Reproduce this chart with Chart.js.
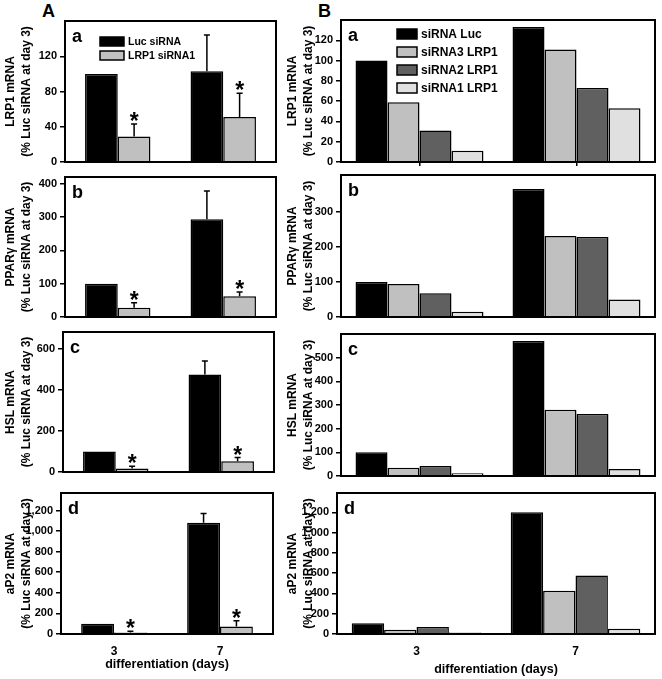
<!DOCTYPE html>
<html><head><meta charset="utf-8">
<script src="https://cdn.jsdelivr.net/npm/chart.js@4.4.1/dist/chart.umd.min.js"></script>
<style>
html,body{margin:0;padding:0;background:#fff;}
#wrap{position:relative;width:662px;height:679px;overflow:hidden;background:#fff;}
.cv{position:absolute;}
.hd{position:absolute;font:bold 18px "Liberation Sans",Arial,sans-serif;color:#000;line-height:18px;}
</style></head><body>
<div id="wrap">
<div class="hd" style="left:42px;top:2px">A</div>
<div class="hd" style="left:318px;top:2px">B</div>
</div>
<script>
// ---------- data ----------
const categories = ['3', '7'];
const xTitle = 'differentiation (days)';

// Column A (mean, upward error, significance)
const legendA = ['Luc siRNA', 'LRP1 siRNA1'];
const aLuc = [100, 103], aLucErr = [0, 41], aLrp = [29, 51], aLrpErr = [14, 27], aStar = [true, true];
const bLuc = [100, 293], bLucErr = [0, 85], bLrp = [28, 62], bLrpErr = [15, 13], bStar = [true, true];
const cLuc = [100, 474], cLucErr = [0, 65], cLrp = [17, 52], cLrpErr = [11, 18], cStar = [true, true];
const dLuc = [100, 1080], dLucErr = [0, 92], dLrp = [15, 72], dLrpErr = [12, 57], dStar = [true, true];
const aTicksA = [0, 40, 80, 120], bTicksA = [0, 100, 200, 300, 400], cTicksA = [0, 200, 400, 600], dTicksA = [0, 200, 400, 600, 800, 1000, 1200];

// Column B
const legendB = ['siRNA Luc', 'siRNA3 LRP1', 'siRNA2 LRP1', 'siRNA1 LRP1'];
const aB_luc = [100, 133], aB_s3 = [59, 111], aB_s2 = [31, 73], aB_s1 = [11, 53];
const bB_luc = [100, 365], bB_s3 = [94, 231], bB_s2 = [68, 228], bB_s1 = [15, 50];
const cB_luc = [100, 570], cB_s3 = [35, 280], cB_s2 = [42, 262], cB_s1 = [12, 30];
const dB_luc = [105, 1200], dB_s3 = [42, 426], dB_s2 = [69, 576], dB_s1 = [16, 52];
const aTicksB = [0, 20, 40, 60, 80, 100, 120], bTicksB = [0, 100, 200, 300], cTicksB = [0, 100, 200, 300, 400, 500], dTicksB = [0, 200, 400, 600, 800, 1000, 1200];

const yTitles = {
  a: ['LRP1 mRNA', '(% Luc siRNA at day 3)'],
  b: ['PPAR\u03b3 mRNA', '(% Luc siRNA at day 3)'],
  c: ['HSL mRNA', '(% Luc siRNA at day 3)'],
  d: ['aP2 mRNA', '(% Luc siRNA at day 3)']
};

// ---------- style / layout ----------
const FONT = '"Liberation Sans", Arial, sans-serif';
Chart.defaults.font.family = FONT;
Chart.defaults.color = '#000';
const colorsA = ['#000000', '#c0c0c0'];
const colorsB = ['#000000', '#c0c0c0', '#606060', '#e0e0e0'];

const panels = [
  {col: 'A', letter: 'a', series: [aLuc, aLrp], errs: [aLucErr, aLrpErr], stars: [null, aStar], max: 160, ticks: aTicksA, box: [65, 21, 276, 162], legend: legendA},
  {col: 'A', letter: 'b', series: [bLuc, bLrp], errs: [bLucErr, bLrpErr], stars: [null, bStar], max: 420, ticks: bTicksA, box: [65, 177, 276, 317]},
  {col: 'A', letter: 'c', series: [cLuc, cLrp], errs: [cLucErr, cLrpErr], stars: [null, cStar], max: 680, ticks: cTicksA, box: [63, 332, 274, 472]},
  {col: 'A', letter: 'd', series: [dLuc, dLrp], errs: [dLucErr, dLrpErr], stars: [null, dStar], max: 1370, ticks: dTicksA, box: [61, 493, 273, 634], bottom: true, titlePad: 7},
  {col: 'B', letter: 'a', series: [aB_luc, aB_s3, aB_s2, aB_s1], max: 140, ticks: aTicksB, box: [341, 20, 655, 162], legend: legendB, xTickMarks: true},
  {col: 'B', letter: 'b', series: [bB_luc, bB_s3, bB_s2, bB_s1], max: 405, ticks: bTicksB, box: [341, 175, 655, 317]},
  {col: 'B', letter: 'c', series: [cB_luc, cB_s3, cB_s2, cB_s1], max: 600, ticks: cTicksB, box: [341, 334, 655, 476]},
  {col: 'B', letter: 'd', series: [dB_luc, dB_s3, dB_s2, dB_s1], max: 1390, ticks: dTicksB, box: [337, 493, 655, 634], bottom: true, titlePad: 2}
];

const boxPlugin = {
  id: 'boxFrame',
  afterDraw(chart) {
    const {ctx, chartArea: a} = chart;
    ctx.save();
    ctx.strokeStyle = '#000';
    ctx.lineWidth = 2;
    ctx.strokeRect(a.left, a.top, a.right - a.left, a.bottom - a.top);
    ctx.restore();
  }
};

const errPlugin = {
  id: 'errStars',
  afterDatasetsDraw(chart, args, opts) {
    const p = opts.panel;
    if (!p || !p.errs) return;
    const {ctx} = chart;
    const ys = chart.scales.y;
    ctx.save();
    ctx.strokeStyle = '#000';
    ctx.lineWidth = 1.5;
    p.series.forEach((vals, i) => {
      const meta = chart.getDatasetMeta(i);
      meta.data.forEach((el, j) => {
        const err = p.errs[i] ? p.errs[i][j] : 0;
        let yTop = el.y;
        if (err > 0) {
          const yE = ys.getPixelForValue(vals[j] + err);
          ctx.beginPath();
          ctx.moveTo(el.x, el.y);
          ctx.lineTo(el.x, yE);
          ctx.moveTo(el.x - 3, yE);
          ctx.lineTo(el.x + 3, yE);
          ctx.stroke();
          yTop = yE;
        }
        if (p.stars[i] && p.stars[i][j]) {
          ctx.font = 'bold 23px ' + FONT;
          ctx.fillStyle = '#000';
          ctx.textAlign = 'center';
          ctx.textBaseline = 'alphabetic';
          const m = ctx.measureText('*');
          const base = yTop - 3 - m.actualBoundingBoxDescent;
          ctx.fillText('*', el.x, base);
        }
      });
    });
    ctx.restore();
  }
};

const labelPlugin = {
  id: 'panelDecor',
  afterDraw(chart, args, opts) {
    const p = opts.panel;
    const {ctx, chartArea: a} = chart;
    ctx.save();
    ctx.fillStyle = '#000';
    ctx.textAlign = 'left';
    ctx.textBaseline = 'alphabetic';
    ctx.font = 'bold 18px ' + FONT;
    ctx.fillText(p.letter, a.left + 7, a.top + 21);
    if (p.legend) {
      const isA = p.col === 'A';
      const colors = isA ? colorsA : colorsB;
      const bx = a.left + (isA ? 35 : 56);
      const by = a.top + (isA ? 16 : 9);
      const bw = isA ? 24 : 20, bh = isA ? 9 : 10, row = isA ? 14 : 18;
      ctx.font = (isA ? 'bold 10.5px ' : 'bold 12px ') + FONT;
      ctx.textBaseline = 'middle';
      p.legend.forEach((t, i) => {
        const y = by + i * row;
        ctx.fillStyle = colors[i];
        ctx.fillRect(bx, y, bw, bh);
        ctx.strokeStyle = '#000';
        ctx.lineWidth = 1.5;
        ctx.strokeRect(bx, y, bw, bh);
        ctx.fillStyle = '#000';
        ctx.fillText(t, bx + bw + 4, y + bh / 2 + 0.5);
      });
    }
    ctx.restore();
  }
};

const wrap = document.getElementById('wrap');
panels.forEach((p, k) => {
  const cx = p.col === 'A' ? 0 : 282;
  const cw = p.col === 'A' ? 282 : 380;
  const [L, T, R, B] = p.box;
  const top = Math.max(0, T - 15);
  const bottom = p.bottom ? 679 : B + 12;
  const div = document.createElement('div');
  div.className = 'cv';
  div.style.left = cx + 'px';
  div.style.top = top + 'px';
  div.style.width = cw + 'px';
  div.style.height = (bottom - top) + 'px';
  const cv = document.createElement('canvas');
  div.appendChild(cv);
  wrap.appendChild(div);
  const colors = p.col === 'A' ? colorsA : colorsB;
  const labels = p.col === 'A' ? legendA : legendB;
  new Chart(cv, {
    type: 'bar',
    data: {
      labels: categories,
      datasets: p.series.map((s, i) => ({
        label: labels[i],
        data: s,
        backgroundColor: colors[i],
        borderColor: '#000',
        borderWidth: 1.5,
        categoryPercentage: p.col === 'A' ? 0.62 : 0.815,
        barPercentage: 1.0
      }))
    },
    options: {
      responsive: true,
      maintainAspectRatio: false,
      animation: false,
      devicePixelRatio: 1,
      layout: {padding: {top: T - top, right: (cx + cw) - R, left: 0, bottom: 0}},
      plugins: {
        legend: {display: false},
        tooltip: {enabled: false},
        errStars: {panel: p},
        panelDecor: {panel: p}
      },
      scales: {
        x: {
          type: 'category',
          offset: true,
          border: {display: false},
          grid: {display: !!p.xTickMarks, drawOnChartArea: false, offset: false, tickLength: 4, color: '#000', lineWidth: 1.5},
          ticks: {display: !!p.bottom, font: {size: 12, weight: 'bold'}, color: '#000', padding: 6, maxRotation: 0},
          title: {display: !!p.bottom, text: xTitle, font: {size: 12.5, weight: 'bold'}, color: '#000', padding: {top: 0, bottom: p.titlePad || 0}},
          afterFit(scale) { scale.height = bottom - B; }
        },
        y: {
          min: 0,
          max: p.max,
          border: {display: false},
          grid: {display: true, drawOnChartArea: false, tickLength: 5, color: '#000', lineWidth: 1.5},
          ticks: {font: {size: 11, weight: 'bold'}, color: '#000', padding: 3},
          afterBuildTicks(scale) { scale.ticks = p.ticks.map(v => ({value: v})); },
          title: {display: true, text: yTitles[p.letter], font: {size: 12, weight: 'bold', lineHeight: 1.3}, color: '#000', padding: {top: 3, bottom: 0}},
          afterFit(scale) { scale.width = L - cx; }
        }
      }
    },
    plugins: [boxPlugin, errPlugin, labelPlugin]
  });
});
</script>
</body></html>
